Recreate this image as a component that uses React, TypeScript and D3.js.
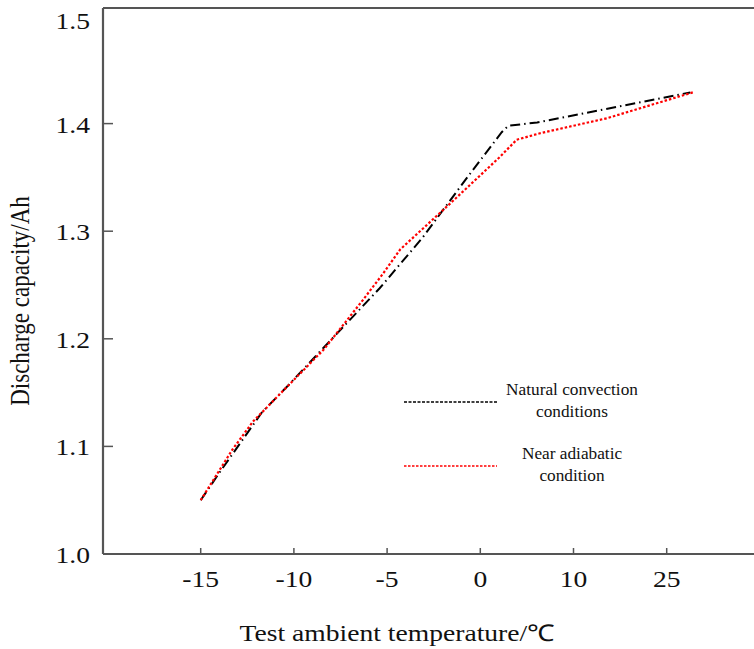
import React from 'react';
import * as d3 from 'd3';

// x axis is categorical-looking: equal spacing between these tick values
const xTicks = [-15, -10, -5, 0, 10, 25];
const yTicks = [1.0, 1.1, 1.2, 1.3, 1.4, 1.5];

// Natural convection conditions (black dash-dot)
const naturalTemp = [-15, -13.9, -11.7, -10.4, -7.9, -5.4, -3.1, -0.7, 2.3, 3.0, 6.1, 28.8];
const naturalCap = [1.05, 1.078, 1.132, 1.155, 1.201, 1.247, 1.294, 1.35, 1.392, 1.398, 1.401, 1.429];

// Near adiabatic condition (red dotted)
const adiabaticTemp = [-15, -13.3, -12.2, -10.9, -8.4, -6.3, -5.2, -4.3, -1.6, 2.1, 3.9, 6.4, 15.4, 29.2];
const adiabaticCap = [1.05, 1.097, 1.123, 1.146, 1.19, 1.236, 1.261, 1.283, 1.326, 1.369, 1.385, 1.391, 1.405, 1.429];

const legendLabels = [
  ['Natural convection', 'conditions'],
  ['Near adiabatic', 'condition'],
];

const W = 754;
const H = 649;
const left = 103;
const top = 8;
const bottom = 554;
const axisColor = '#555';
const font = '"Liberation Serif", "Times New Roman", serif';
const stretch = 1.2;

const App = () => {
  const x = d3.scaleLinear()
    .domain(xTicks)
    .range(xTicks.map((_, i) => 200.7 + i * 93.2));
  const y = d3.scaleLinear().domain([1.0, 1.5]).range([bottom, 16]);

  const line = d3.line<[number, number]>()
    .x(d => x(d[0]))
    .y(d => y(d[1]));

  const natural = naturalTemp.map((t, i) => [t, naturalCap[i]] as [number, number]);
  const adiabatic = adiabaticTemp.map((t, i) => [t, adiabaticCap[i]] as [number, number]);

  const series = [
    { data: natural, color: '#000', dash: '10,4,1.5,4', width: 2, legendDash: '3,1.5' },
    { data: adiabatic, color: '#f00', dash: '2.5,2', width: 2.2, legendDash: '2.5,1.5' },
  ];

  const stext = (tx: number, ty: number, str: string, size: number, anchor: string, sx = stretch) => (
    <text transform={`translate(${tx},${ty}) scale(${sx},1)`}
      fontSize={size} textAnchor={anchor} fontFamily={font} fill="#111">{str}</text>
  );

  return (
    <svg width={W} height={H} style={{ position: 'absolute', left: 0, top: 0, background: '#fff' }}>
      {/* frame: left, top, bottom */}
      <line x1={left} x2={W} y1={top} y2={top} stroke={axisColor} strokeWidth={2.2} />
      <line x1={left} x2={left} y1={top} y2={bottom} stroke={axisColor} strokeWidth={2.2} />
      <line x1={left} x2={W} y1={bottom} y2={bottom} stroke={axisColor} strokeWidth={2.2} />

      {yTicks.map(t => (
        <g key={t}>
          {t > 1.0 && t < 1.5 && (
            <line x1={left} x2={left + 10} y1={y(t)} y2={y(t)} stroke={axisColor} strokeWidth={1.5} />
          )}
          {stext(90, y(t) + (t === 1.5 ? 13 : 9), t.toFixed(1), 23, 'end')}
        </g>
      ))}

      {xTicks.map(t => (
        <g key={t}>
          <line x1={x(t)} x2={x(t)} y1={bottom} y2={bottom - 6} stroke={axisColor} strokeWidth={1.5} />
          {stext(x(t), 587, String(t), 23, 'middle')}
        </g>
      ))}

      {stext(397, 641, 'Test ambient temperature/℃', 23, 'middle')}
      <text transform={`translate(29,301) scale(${stretch},1) rotate(-90)`} fontSize={23}
        textAnchor="middle" fontFamily={font} fill="#111">Discharge capacity/Ah</text>

      {series.map((s, i) => (
        <path key={i} d={line(s.data) || ''} fill="none" stroke={s.color}
          strokeWidth={s.width} strokeDasharray={s.dash} />
      ))}

      {series.map((s, i) => {
        const ly = 402 + i * 64;
        return (
          <g key={'lg' + i}>
            <line x1={404} x2={497} y1={ly} y2={ly} stroke={s.color} strokeWidth={1.6}
              strokeDasharray={s.legendDash} />
            {stext(572, ly - 7, legendLabels[i][0], 16, 'middle', 1.08)}
            {stext(572, ly + 15, legendLabels[i][1], 16, 'middle', 1.08)}
          </g>
        );
      })}
    </svg>
  );
};

export default App;
